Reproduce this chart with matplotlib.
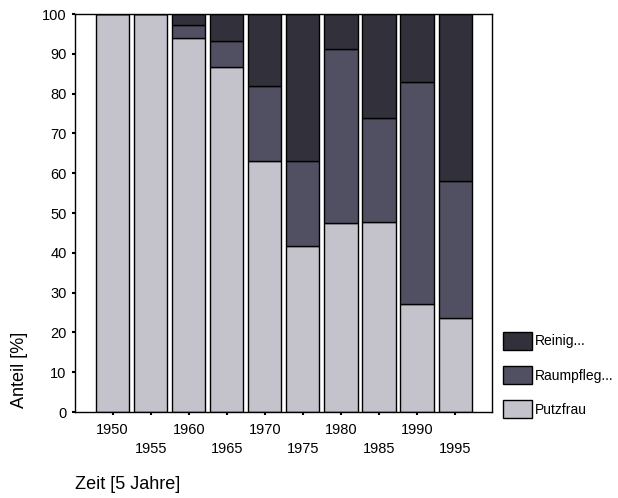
import matplotlib
matplotlib.use("Agg")
import matplotlib.pyplot as plt
import numpy as np

plt.rcParams['font.family'] = ['Liberation Sans', 'DejaVu Sans']

years = ['1950', '1955', '1960', '1965', '1970', '1975', '1980', '1985', '1990', '1995']
putzfrau = [100.0, 100.0, 94.0, 86.7, 63.1, 41.8, 47.6, 47.8, 27.2, 23.7]
raumpfleg = [0.0, 0.0, 3.2, 6.5, 18.7, 21.2, 43.7, 26.1, 55.7, 34.4]
reinig = [100 - p - r for p, r in zip(putzfrau, raumpfleg)]

series = [('Putzfrau', putzfrau, '#c4c3cc'),
          ('Raumpfleg...', raumpfleg, '#505062'),
          ('Reinig...', reinig, '#32313b')]

fig = plt.figure(figsize=(6.18, 4.98), dpi=100)
ax = fig.add_axes([75/618, 1-412/498, (492-75)/618, (412-14)/498])

x = np.arange(len(years))
bottom = np.zeros(len(years))
handles = []
for name, vals, col in series:
    vals = np.array(vals)
    b = ax.bar(x, vals, width=0.87, bottom=bottom, color=col, edgecolor='black', linewidth=1.0, label=name)
    handles.append(b)
    bottom += vals

ax.set_xlim(-0.99, 9.97)
ax.set_ylim(0, 100)
ax.set_yticks(np.arange(0, 101, 10))
ax.set_xticks(x)
labels = [y if i % 2 == 0 else '\n' + y for i, y in enumerate(years)]
ax.set_xticklabels(labels, fontsize=10.5, linespacing=1.45)
ax.tick_params(axis='x', length=2, width=1.5, labelsize=10.5, pad=6)
ax.tick_params(axis='y', length=2, width=1.5, labelsize=10.5, pad=4)
for s in ax.spines.values():
    s.set_linewidth(1.0)

fig.text(20/618, 1-370/498, 'Anteil [%]', rotation=90, ha='center', va='center', fontsize=13)
fig.text(75/618, 1-484/498, 'Zeit [5 Jahre]', ha='left', va='center', fontsize=13)

leg = fig.legend(handles[::-1], ['Reinig...', 'Raumpfleg...', 'Putzfrau'],
                 loc='upper left', bbox_to_anchor=(497/618, 1-326/498),
                 frameon=False, fontsize=10, handlelength=2.1, handleheight=1.65,
                 labelspacing=1.15, handletextpad=0.2, borderaxespad=0)

fig.savefig('out.png', dpi=100)
